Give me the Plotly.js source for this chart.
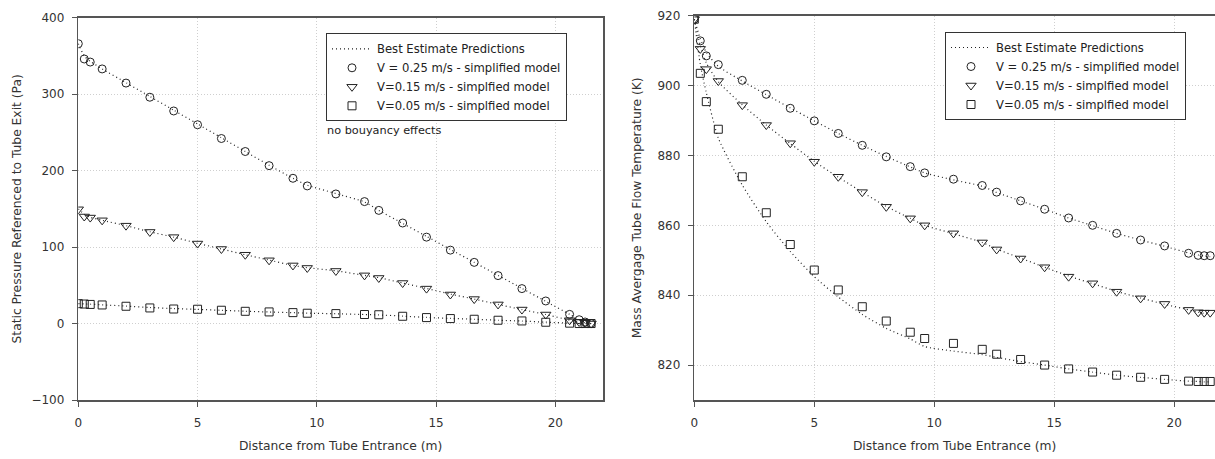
<!DOCTYPE html>
<html>
<head>
<meta charset="utf-8">
<script src="https://cdn.plot.ly/plotly-3.0.1.min.js"></script>
<style>
  html, body { margin: 0; padding: 0; background: #fff; overflow: hidden; }
  #chart { width: 1215px; height: 459px; }
</style>
</head>
<body>
<div id="chart"></div>
<script>
// Distance from tube entrance (m)
const distance = [0, 0.25, 0.5, 1, 2, 3, 4, 5, 6, 7, 8, 9, 9.6, 10.8, 12, 12.6, 13.6, 14.6, 15.6, 16.6, 17.6, 18.6, 19.6, 20.6, 21.0, 21.25, 21.5];

// Left chart: static pressure referenced to tube exit (Pa)
const pressureV025 = [366, 346, 342, 333, 314.5, 296, 278, 260, 242, 225, 206.5, 190, 180, 169.5, 159.5, 148, 131.5, 113, 96, 80, 62.7, 45.7, 29.5, 12, 5, 2, 0];
const pressureV015 = [149.4, 140, 138.6, 135, 128, 119.8, 113, 104.6, 97.5, 90, 82.7, 76, 72.7, 68.8, 63, 59.6, 53, 45.7, 38, 32, 25, 18.3, 11.8, 4.3, 2, 1, 0];
const pressureV005 = [26, 25.5, 25, 24.3, 22.6, 20.4, 19, 18.7, 17.4, 16, 15.2, 14.3, 13.5, 13, 11.8, 11.5, 9.5, 7.8, 6.5, 5.6, 4.3, 3.4, 1.7, 0.5, 0, 0, 0];
// Best estimate predictions (pressure)
const predPressureV025 = [366, 350, 343, 333, 315, 297, 279, 261, 243, 225, 207, 190, 181, 170, 159, 148, 131, 114, 97, 80, 63, 46, 29, 12, 5, 2, 0];
const predPressureV015 = [150, 143, 139, 135, 128, 120, 113, 105, 97.5, 90, 83, 76, 73, 69, 63, 60, 53, 46, 38.5, 32, 25, 18.3, 11.8, 4.5, 2, 1, 0];
const predPressureV005 = [26, 25.7, 25.3, 24.5, 22.8, 21, 19.6, 18.5, 17.3, 16.1, 15.1, 14.2, 13.6, 12.8, 11.8, 11.3, 9.7, 8, 6.7, 5.6, 4.3, 3.3, 1.8, 0.5, 0, 0, 0];

// Right chart: mass average tube flow temperature (K)
const tempV025 = [919, 912.8, 908.5, 906, 901.5, 897.5, 893.5, 889.9, 886.3, 882.9, 879.6, 876.8, 875.0, 873.2, 871.4, 869.5, 867, 864.6, 862.1, 860.0, 857.7, 855.8, 854.1, 852.0, 851.4, 851.3, 851.3];
const tempV015 = [919, 910.5, 904.7, 901.3, 894.4, 888.7, 883.5, 878.2, 873.9, 869.5, 865.3, 862, 860, 857.7, 855.1, 853.1, 850.5, 848, 845.3, 843.4, 841, 839.1, 837.5, 835.8, 835.1, 835, 835];
const tempV005 = [919, 903.5, 895.4, 887.5, 873.9, 863.6, 854.5, 847.2, 841.5, 836.7, 832.6, 829.4, 827.6, 826.2, 824.5, 823.1, 821.6, 820, 818.9, 818, 817.1, 816.5, 815.9, 815.4, 815.3, 815.3, 815.3];
// Best estimate predictions (temperature)
const predTempV025 = [919, 913.5, 909.5, 905.5, 901.3, 897.4, 893.6, 889.9, 886.3, 882.9, 879.7, 876.7, 875.0, 873.0, 871.2, 869.4, 867, 864.6, 862.1, 859.9, 857.7, 855.8, 854, 852.1, 851.5, 851.2, 851];
const predTempV015 = [919, 911.5, 906.5, 901.1, 894.5, 888.7, 883.4, 878.3, 873.8, 869.5, 865.4, 862, 860, 857.6, 855.1, 853.2, 850.6, 848, 845.5, 843.3, 841.1, 839.2, 837.4, 835.8, 835.1, 834.8, 834.6];
const predTempV005 = [919, 906, 898, 885, 871.5, 861, 852.5, 845.3, 839.5, 834.5, 830.5, 827.5, 825.3, 824, 823, 822.2, 821, 820, 818.9, 818, 817.1, 816.5, 815.9, 815.4, 815.3, 815.2, 815.2];

// Legend labels
const legendLabels = ["Best Estimate Predictions", "V = 0.25 m/s - simplified model", "V=0.15 m/s - simplfied model", "V=0.05 m/s - simplfied model"];

const INK = '#222';
const FONT = 'DejaVu Sans, Verdana, sans-serif';
const lineStyle = { color: INK, width: 1.2, dash: '1px,3px', shape: 'spline', smoothing: 0.6 };
const symbols = ['circle-open', 'triangle-down-open', 'square-open'];
const sizes = [8, 9, 8];

function buildTraces(xa, ya, legendName, preds, obs) {
  const traces = [];
  preds.forEach((p, i) => {
    traces.push({
      type: 'scatter', mode: 'lines', x: distance, y: p, xaxis: xa, yaxis: ya,
      line: lineStyle, name: legendLabels[0], legend: legendName,
      showlegend: i === 0, hoverinfo: 'skip', legendgroup: 'pred' + xa
    });
  });
  obs.forEach((o, i) => {
    traces.push({
      type: 'scatter', mode: 'markers', x: distance, y: o, xaxis: xa, yaxis: ya,
      marker: { symbol: symbols[i], size: sizes[i], color: INK, line: { color: INK, width: 1 } },
      name: legendLabels[i + 1], legend: legendName
    });
  });
  return traces;
}

const data = [].concat(
  buildTraces('x', 'y', 'legend', [predPressureV025, predPressureV015, predPressureV005], [pressureV025, pressureV015, pressureV005]),
  buildTraces('x2', 'y2', 'legend2', [predTempV025, predTempV015, predTempV005], [tempV025, tempV015, tempV005])
);

const W = 1215, H = 459;
const axisBase = {
  showline: true, linecolor: '#555', linewidth: 1.5, mirror: true,
  ticks: 'outside', ticklen: 5, tickcolor: '#555', tickwidth: 1,
  showgrid: true, gridcolor: '#cfcfcf', griddash: '1px,2px', gridwidth: 1,
  zeroline: false, tickfont: { family: FONT, size: 12, color: '#333' }
};
const xAxisBase = Object.assign({}, axisBase, { ticklabelstandoff: 6 });
const yAxisBase = Object.assign({}, axisBase, { ticklabelstandoff: 5 });
const titleFont = { family: FONT, size: 12.3, color: '#333' };
const legendBase = {
  xanchor: 'left', yanchor: 'top', bgcolor: '#fff', bordercolor: '#333', borderwidth: 1,
  font: { family: FONT, size: 11.6, color: '#222' }, traceorder: 'normal', tracegroupgap: 0,
  itemwidth: 40
};

const layout = {
  width: W, height: H,
  margin: { l: 0, r: 0, t: 0, b: 0 },
  paper_bgcolor: '#fff', plot_bgcolor: '#fff',
  showlegend: true,
  xaxis: Object.assign({}, xAxisBase, {
    domain: [78.3 / W, 603 / W], range: [0, 22], tickvals: [0, 5, 10, 15, 20],
    anchor: 'y', title: { text: 'Distance from Tube Entrance (m)', font: titleFont, standoff: 12 }
  }),
  yaxis: Object.assign({}, yAxisBase, {
    domain: [(H - 400) / H, (H - 17.7) / H], range: [-100, 400], tickvals: [-100, 0, 100, 200, 300, 400],
    anchor: 'x', title: { text: 'Static Pressure Referenced to Tube Exit (Pa)', font: titleFont, standoff: 7 }
  }),
  xaxis2: Object.assign({}, xAxisBase, {
    domain: [694.3 / W, 1], range: [0, 21.7], tickvals: [0, 5, 10, 15, 20],
    anchor: 'y2', title: { text: 'Distance from Tube Entrance (m)', font: titleFont, standoff: 12 }
  }),
  yaxis2: Object.assign({}, yAxisBase, {
    domain: [(H - 400) / H, (H - 15.7) / H], range: [810, 920], tickvals: [820, 840, 860, 880, 900, 920],
    mirror: false,
    anchor: 'x2', title: { text: 'Mass Avergage Tube Flow Temperature (K)', font: titleFont, standoff: 13 }
  }),
  legend: Object.assign({}, legendBase, { x: 326 / W, y: 1 - 33.3 / H }),
  legend2: Object.assign({}, legendBase, { x: 945 / W, y: 1 - 32 / H }),
  annotations: [{
    xref: 'paper', yref: 'paper', x: 325 / W, y: 1 - 131 / H, xanchor: 'left', yanchor: 'middle',
    text: 'no bouyancy effects', showarrow: false, font: { family: FONT, size: 11.3, color: '#222' }
  }]
};

Plotly.newPlot('chart', data, layout, { displayModeBar: false, staticPlot: true });
</script>
</body>
</html>
